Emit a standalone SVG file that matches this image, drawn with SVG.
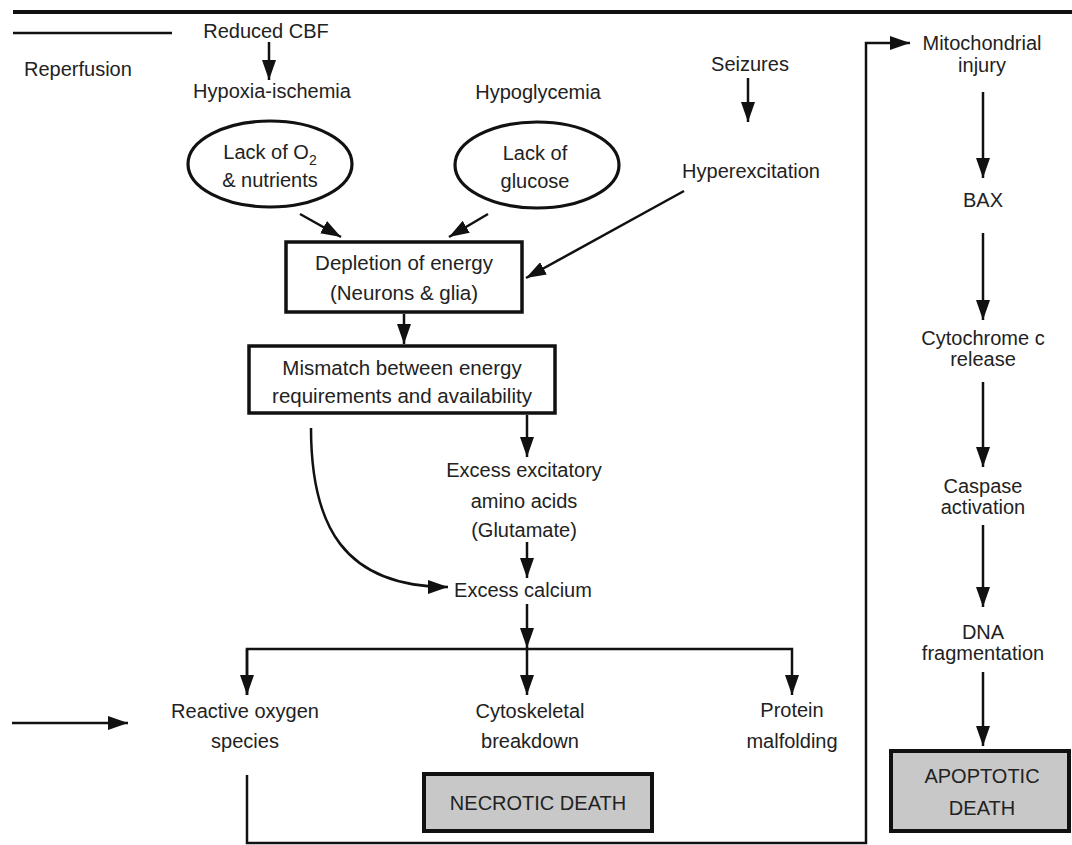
<svg xmlns="http://www.w3.org/2000/svg" width="1072" height="845" viewBox="0 0 1072 845">
<style>
text{font-family:"Liberation Sans",Arial,sans-serif;font-size:20px;fill:#222;text-anchor:middle}
.l{text-anchor:start}
.c{fill:none;stroke:#111;stroke-width:2.5}
.box{fill:#fff;stroke:#111;stroke-width:3.5}
.gbox{fill:#c8c8c8;stroke:#111;stroke-width:4}
.ell{fill:#fff;stroke:#111;stroke-width:3.2}
.bt{font-size:20.5px}
</style>
<defs>
<marker id="ah" markerWidth="20" markerHeight="14" refX="20" refY="7" orient="auto" markerUnits="userSpaceOnUse"><path d="M0,0 L20,7 L0,14 z" fill="#111"/></marker>
</defs>
<rect width="1072" height="845" fill="#fff"/>
<g id="rules">
<line x1="13" y1="12" x2="1072" y2="12" stroke="#111" stroke-width="4"/>
<line x1="13" y1="33" x2="172" y2="33" stroke="#111" stroke-width="2.5"/>
</g>
<g id="reperfusion"><text class="l" x="24" y="76">Reperfusion</text></g>
<g id="reducedcbf"><text x="266" y="38">Reduced CBF</text></g>
<g id="hypoxia"><text x="272" y="98">Hypoxia-ischemia</text></g>
<g id="hypoglycemia"><text x="538" y="99">Hypoglycemia</text></g>
<g id="seizures"><text x="750" y="71">Seizures</text></g>
<g id="hyperexcitation"><text x="751" y="178">Hyperexcitation</text></g>
<g id="lacko2">
<ellipse class="ell" cx="270" cy="164" rx="82" ry="43"/>
<text x="270" y="159">Lack of O<tspan font-size="14" dy="6">2</tspan></text>
<text x="270" y="187">&amp; nutrients</text>
</g>
<g id="lackglucose">
<ellipse class="ell" cx="537" cy="165" rx="82" ry="43"/>
<text x="535" y="160">Lack of</text>
<text x="535" y="188">glucose</text>
</g>
<g id="depletion">
<rect class="box" x="286" y="242" width="236" height="70"/>
<text class="bt" x="404" y="270">Depletion of energy</text>
<text class="bt" x="404" y="300">(Neurons &amp; glia)</text>
</g>
<g id="mismatch">
<rect class="box" x="249" y="346" width="306" height="67"/>
<text class="bt" x="402" y="375">Mismatch between energy</text>
<text class="bt" x="402" y="403">requirements and availability</text>
</g>
<g id="eaa">
<text x="524" y="477">Excess excitatory</text>
<text x="524" y="508">amino acids</text>
<text x="524" y="537">(Glutamate)</text>
</g>
<g id="calcium"><text x="523" y="597">Excess calcium</text></g>
<g id="ros">
<text x="245" y="718">Reactive oxygen</text>
<text x="245" y="748">species</text>
</g>
<g id="cyto">
<text x="530" y="718">Cytoskeletal</text>
<text x="530" y="748">breakdown</text>
</g>
<g id="protein">
<text x="792" y="717">Protein</text>
<text x="792" y="748">malfolding</text>
</g>
<g id="necrotic">
<rect class="gbox" x="424" y="774" width="228" height="57"/>
<text x="538" y="810">NECROTIC DEATH</text>
</g>
<g id="mito">
<text x="982" y="50">Mitochondrial</text>
<text x="982" y="72">injury</text>
</g>
<g id="bax"><text x="983" y="207">BAX</text></g>
<g id="cytc">
<text x="983" y="345">Cytochrome c</text>
<text x="983" y="366">release</text>
</g>
<g id="caspase">
<text x="983" y="493">Caspase</text>
<text x="983" y="514">activation</text>
</g>
<g id="dna">
<text x="983" y="639">DNA</text>
<text x="983" y="660">fragmentation</text>
</g>
<g id="apoptotic">
<rect class="gbox" x="891" y="751" width="178" height="80"/>
<text x="982" y="783">APOPTOTIC</text>
<text x="982" y="815">DEATH</text>
</g>
<g id="connectors">
<line class="c" x1="269" y1="42" x2="269" y2="80" marker-end="url(#ah)"/>
<line class="c" x1="748" y1="78" x2="748" y2="122" marker-end="url(#ah)"/>
<line class="c" x1="300" y1="214" x2="341" y2="237" marker-end="url(#ah)"/>
<line class="c" x1="488" y1="214" x2="449" y2="237" marker-end="url(#ah)"/>
<line class="c" x1="684" y1="191" x2="526" y2="278" marker-end="url(#ah)"/>
<line class="c" x1="404" y1="314" x2="404" y2="344" marker-end="url(#ah)"/>
<line class="c" x1="527" y1="415" x2="527" y2="457" marker-end="url(#ah)"/>
<line class="c" x1="527" y1="542" x2="527" y2="578" marker-end="url(#ah)"/>
<path class="c" d="M311,428 C311,525 343,587 448,587" marker-end="url(#ah)"/>
<line class="c" x1="527" y1="604" x2="527" y2="648" marker-end="url(#ah)"/>
<polyline class="c" points="247,695 247,649 792,649 792,695" marker-end="url(#ah)"/>
<line class="c" x1="247" y1="649" x2="247" y2="695" marker-end="url(#ah)"/>
<line class="c" x1="527" y1="649" x2="527" y2="695" marker-end="url(#ah)"/>
<line class="c" x1="12" y1="723" x2="128" y2="723" marker-end="url(#ah)"/>
<polyline class="c" points="247,775 247,843 866,843 866,43 910,43" marker-end="url(#ah)"/>
<line class="c" x1="983" y1="92" x2="983" y2="178" marker-end="url(#ah)"/>
<line class="c" x1="983" y1="233" x2="983" y2="320" marker-end="url(#ah)"/>
<line class="c" x1="983" y1="382" x2="983" y2="467" marker-end="url(#ah)"/>
<line class="c" x1="983" y1="525" x2="983" y2="607" marker-end="url(#ah)"/>
<line class="c" x1="983" y1="672" x2="983" y2="746" marker-end="url(#ah)"/>
</g>
</svg>
